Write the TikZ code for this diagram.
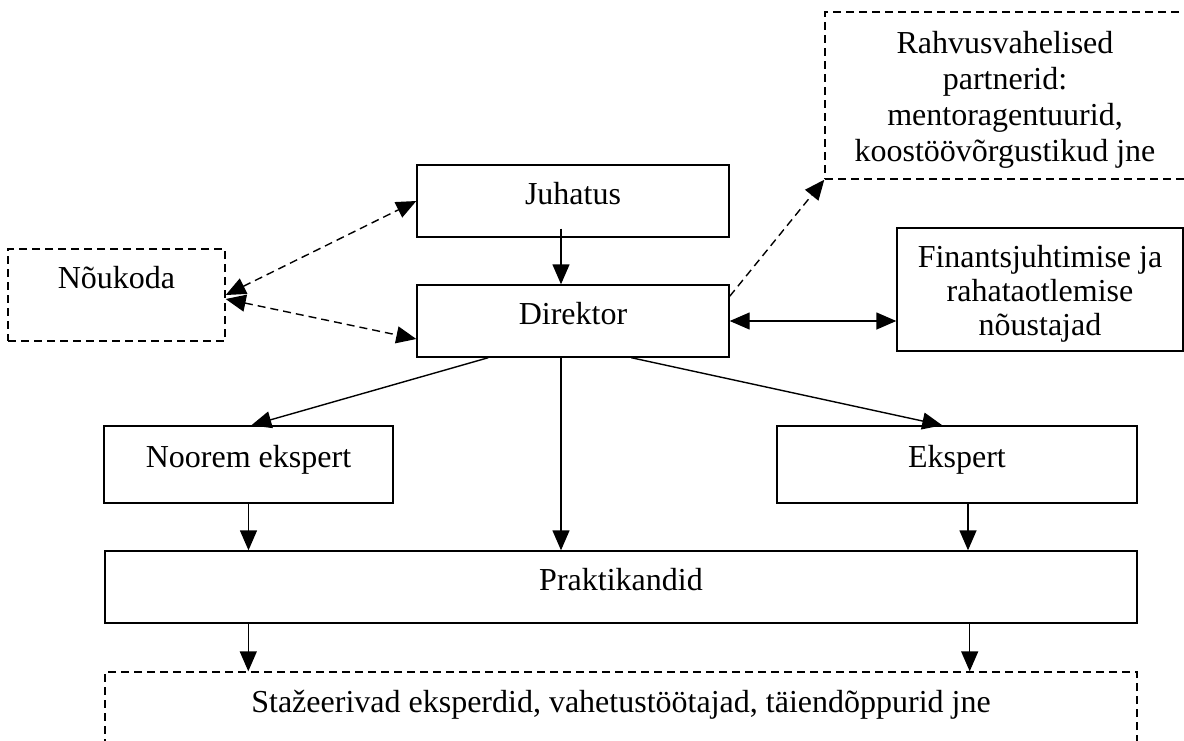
\documentclass[tikz,border=0pt]{standalone}
\usepackage{fontspec}
\setmainfont{Liberation Serif}
\usetikzlibrary{arrows.meta, positioning}

\begin{document}
\begin{tikzpicture}[x=1pt, y=-1pt, line width=1.4pt]
	\tikzset{>={Triangle[length=20pt, width=17pt]},
		box/.style={draw, rectangle, inner sep=0pt, font=\fontsize{32}{36}\selectfont, text height=22pt, text depth=16pt},
		mbox/.style={draw, rectangle, inner sep=0pt, align=center, font=\fontsize{32}{36}\selectfont},
		dline/.style={dash pattern=on 8pt off 5pt}}
	\useasboundingbox (0,0) rectangle (1184,740);
	\clip (0,0) rectangle (1184,740);

	\node[box, minimum width=312pt, minimum height=72pt] (juhatus) at (573,201) {Juhatus};
	\node[box, minimum width=312pt, minimum height=72pt] (direktor) at (573,321) {Direktor};
	\node[box, dline, minimum width=217pt, minimum height=92pt, text depth=35pt] (noukoda) at (116.5,295) {Nõukoda};
	\node[mbox, dline, minimum width=360pt, minimum height=167pt, text height=140pt, text depth=8pt] (partner) at (1005,95.5) {Rahvusvahelised\\partnerid:\\mentoragentuurid,\\koostöövõrgustikud jne};
	\node[mbox, minimum width=286pt, minimum height=123pt, font=\fontsize{32}{34}\selectfont, text height=99pt, text depth=7pt] (finants) at (1040,289.5) {Finantsjuhtimise ja\\rahataotlemise\\nõustajad};
	\node[box, minimum width=289pt, minimum height=77pt] (noorem) at (248.5,464.5) {Noorem ekspert};
	\node[box, minimum width=360pt, minimum height=77pt] (ekspert) at (957,464.5) {Ekspert};
	\node[box, minimum width=1032pt, minimum height=72pt] (prakt) at (621,587) {Praktikandid};
	\node[box, dline, minimum width=1032pt, minimum height=118pt, text depth=59pt] (stazh) at (621,731) {Stažeerivad eksperdid, vahetustöötajad, täiendõppurid jne};

	\draw[->] ([xshift=-12pt, yshift=9pt]juhatus.south) -- ([xshift=-12pt]direktor.north);
	\draw[<->, dline] (noukoda.east) -- (juhatus.west);
	\draw[<->, dline] ([yshift=-4pt]noukoda.east) -- ([yshift=-18pt]direktor.west);
	\draw[<->] (direktor.east) -- (direktor.east -| finants.west);
	\draw[->, dline] ([yshift=-12pt]direktor.north east) -- (partner.south west);
	\draw[->] ([xshift=72pt]direktor.south west) -- ([xshift=148pt]noorem.north west);
	\draw[->] ([xshift=215pt]direktor.south west) -- ([xshift=166pt]ekspert.north west);
	\draw[->] ([xshift=-12pt]direktor.south) -- ([xshift=-12pt]prakt.north -| direktor.south);
	\draw[->] (noorem.south) -- (noorem.south |- prakt.north);
	\draw[->] ([xshift=11pt]ekspert.south) -- ([xshift=11pt]prakt.north -| ekspert.south);
	\draw[->] ([xshift=144pt]prakt.south west) -- ([xshift=144pt]stazh.north west);
	\draw[->] ([xshift=-168pt]prakt.south east) -- ([xshift=-168pt]stazh.north east);
\end{tikzpicture}
\end{document}
